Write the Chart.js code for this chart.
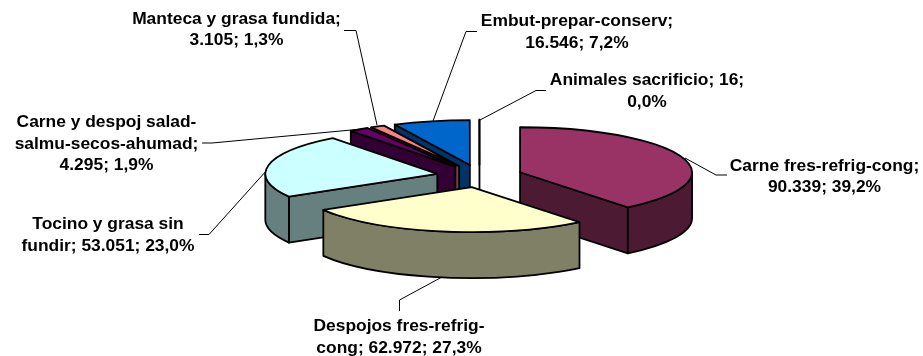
<!DOCTYPE html>
<html lang="es">
<head>
<meta charset="utf-8">
<title>Pie 3D</title>
<script src="https://cdn.jsdelivr.net/npm/chart.js@4"></script>
<style>
html,body{margin:0;padding:0;background:#fff;overflow:hidden}
#wrap{width:923px;height:356px;position:relative}
</style>
</head>
<body>
<div id="wrap"><canvas id="c" width="923" height="356"></canvas></div>
<script>
const categories = ["Carne fres-refrig-cong","Despojos fres-refrig-cong","Tocino y grasa sin fundir","Carne y despoj salad-salmu-secos-ahumad","Manteca y grasa fundida","Embut-prepar-conserv","Animales sacrificio"];
const values = [90339,62972,53051,4295,3105,16546,16];
const topColors = ["#993366","#FFFFCC","#CCFFFF","#660066","#FF8080","#0066CC","#FFFFFF"];
const sideColors = ["#4D1A33","#808066","#668080","#330033","#804040","#003366","#808080"];
const labelLines = [
  ["Carne fres-refrig-cong;","90.339; 39,2%"],
  ["Despojos fres-refrig-","cong; 62.972; 27,3%"],
  ["Tocino y grasa sin","fundir; 53.051; 23,0%"],
  ["Carne y despoj salad-","salmu-secos-ahumad;","4.295; 1,9%"],
  ["Manteca y grasa fundida;","3.105; 1,3%"],
  ["Embut-prepar-conserv;","16.546; 7,2%"],
  ["Animales sacrificio; 16;","0,0%"]
];
const labelCenters = [[824.5,170.5],[399,331],[108,229],[106.5,127],[236.5,23.5],[577,26],[647,85]];
const labelLeading = 21.7;
const leaders = [
  [[685,158],[716,175],[727,175]],
  [[442,277],[399.5,300],[399.5,311]],
  [[267,170],[209,234.5],[199,234.5]],
  [[362,129],[212,143],[202,143]],
  [[377,125],[356,30.5],[344,30.5]],
  [[433,121],[466,31.5],[477,31.5]],
  [[480,120],[536,90.5],[546,90.5]]
];
const drawOrder = [6,5,4,3,2,0,1];
const pieRadius = 172, tilt = 45/172, depth = 46, explode = 0.25, edge = 1.8;

const pie3d = {
  id:'pie3d',
  beforeDatasetDraw(){ return false; },
  afterDatasetsDraw(chart){
    const ctx = chart.ctx;
    const arcs = chart.getDatasetMeta(0).data;
    drawOrder.forEach(i=>{
      const a = arcs[i], R = a.outerRadius, s = a.startAngle, e = a.endAngle, m=(s+e)/2;
      const cx = a.x + Math.cos(m)*R*explode, cy = a.y + Math.sin(m)*R*explode*tilt;
      const pt = (t,d)=>[cx+Math.cos(t)*R, cy+Math.sin(t)*R*tilt+(d||0)];
      ctx.save();
      ctx.lineWidth = edge; ctx.strokeStyle='#000'; ctx.lineJoin='round';
      ctx.fillStyle = sideColors[i];
      // radial cut faces that look towards the viewer
      [[s,-Math.PI/2],[e,Math.PI/2]].forEach(([t,n])=>{
        if (Math.sin(t+n) > 0){
          const r=pt(t), b=pt(t,depth);
          ctx.beginPath(); ctx.moveTo(cx,cy); ctx.lineTo(r[0],r[1]); ctx.lineTo(b[0],b[1]); ctx.lineTo(cx,cy+depth); ctx.closePath();
          ctx.fill(); ctx.stroke();
        }
      });
      // outer wall, front half of the rim
      const a0=Math.max(s,0), a1=Math.min(e,Math.PI);
      if (a1>a0){
        ctx.beginPath();
        ctx.ellipse(cx,cy,R,R*tilt,0,a0,a1);
        ctx.ellipse(cx,cy+depth,R,R*tilt,0,a1,a0,true);
        ctx.closePath(); ctx.fill(); ctx.stroke();
      }
      // top face, drawn by the library's arc element
      ctx.save();
      ctx.translate(cx,cy); ctx.scale(1,tilt); ctx.translate(-a.x,-a.y);
      a.draw(ctx);
      ctx.restore();
      ctx.beginPath(); ctx.moveTo(cx,cy);
      ctx.ellipse(cx,cy,R,R*tilt,0,s,e);
      ctx.closePath(); ctx.stroke();
      ctx.restore();
    });
    // leader lines
    ctx.save();
    ctx.lineWidth=1; ctx.strokeStyle='#000';
    leaders.forEach(l=>{
      ctx.beginPath(); l.forEach((p,k)=>k?ctx.lineTo(p[0],p[1]):ctx.moveTo(p[0],p[1])); ctx.stroke();
    });
    // labels
    ctx.fillStyle='#000'; ctx.font='bold 17.4px "Liberation Sans", Arial, sans-serif';
    ctx.textAlign='center'; ctx.textBaseline='alphabetic';
    labelLines.forEach((lines,i)=>{
      lines.forEach((t,k)=>ctx.fillText(t,labelCenters[i][0],labelCenters[i][1]+k*labelLeading));
    });
    ctx.restore();
  }
};

new Chart(document.getElementById('c'),{
  type:'pie',
  data:{labels:categories,datasets:[{data:values,backgroundColor:topColors,borderWidth:0,radius:pieRadius}]},
  options:{
    responsive:false,animation:false,events:[],
    layout:{padding:{left:36,bottom:4}},
    plugins:{legend:{display:false},tooltip:{enabled:false}}
  },
  plugins:[pie3d]
});
</script>
</body>
</html>
